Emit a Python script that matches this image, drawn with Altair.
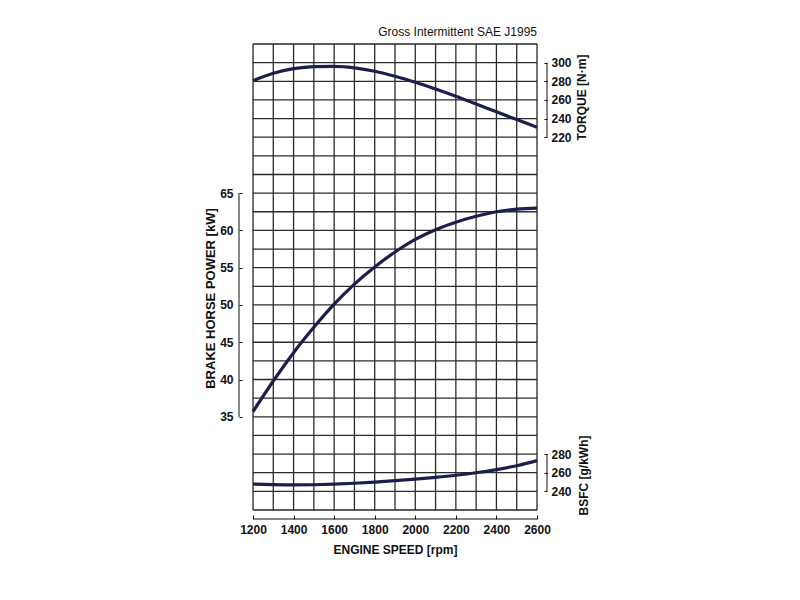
import altair as alt
import pandas as pd

# ---- data ----
rpm = [1200, 1300, 1400, 1500, 1600, 1700, 1800, 1900, 2000, 2100, 2200, 2300, 2400, 2500, 2600]
power_kw = [35.7, 39.8, 43.6, 47.0, 50.1, 52.8, 55.1, 57.1, 58.8, 60.1, 61.1, 61.9, 62.5, 62.85, 63.0]
torque_nm = [280.7, 288.6, 293.5, 295.7, 296.0, 294.4, 290.8, 285.4, 278.9, 271.7, 263.9, 255.6, 247.2, 238.9, 230.6]
bsfc_g = [247.9, 247.2, 246.9, 247.1, 247.7, 248.7, 250.0, 251.5, 253.2, 255.1, 257.3, 260.0, 263.4, 267.5, 273.0]

rpm_ticks = [1200, 1400, 1600, 1800, 2000, 2200, 2400, 2600]
rpm_grid = [1200, 1300, 1400, 1500, 1600, 1700, 1800, 1900, 2000, 2100, 2200, 2300, 2400, 2500, 2600]
power_ticks = [35, 40, 45, 50, 55, 60, 65]
power_grid = [22.5 + 2.5 * i for i in range(26)]
torque_ticks = [220, 240, 260, 280, 300]
bsfc_ticks = [240, 260, 280]

power_domain = [22.5, 85]
torque_domain = [-180, 320]
bsfc_domain = [220, 720]

W, H = 284, 466
FONT = "Liberation Sans, Arial, Helvetica, sans-serif"
CURVE = "#1b1f4d"
GRID = "#2b2b2b"
INK = "#111111"

df = pd.DataFrame({"rpm": rpm, "power": power_kw, "torque": torque_nm, "bsfc": bsfc_g})
vgrid_df = pd.DataFrame({"rpm": rpm_grid})
hgrid_df = pd.DataFrame({"kw": power_grid})
xline_df = pd.DataFrame({"a": [rpm_ticks[0]], "b": [rpm_ticks[-1]]})
pbr_df = pd.DataFrame({"a": [power_ticks[0]], "b": [power_ticks[-1]]})
tbr_df = pd.DataFrame({"a": [torque_ticks[0]], "b": [torque_ticks[-1]]})
bbr_df = pd.DataFrame({"a": [bsfc_ticks[0]], "b": [bsfc_ticks[-1]]})

common_axis = dict(grid=False, domain=False, ticks=True, tickColor=INK, tickWidth=1,
                   labelFont=FONT, labelFontSize=12, labelFontWeight="bold", labelColor=INK,
                   labelOverlap=False, labelFlush=False, format="d",
                   titleFont=FONT, titleFontWeight="bold", titleColor=INK)

xscale = alt.Scale(domain=[1200, 2600], nice=False, zero=False)
xaxis = alt.Axis(values=rpm_ticks, title="ENGINE SPEED [rpm]", offset=5, tickSize=4, labelPadding=5,
                 titlePadding=9, titleFontSize=12, **common_axis)


def X(field):
    return alt.X(f"{field}:Q", scale=xscale, axis=xaxis)


# vertical grid + x axis line
vgrid = alt.Chart(vgrid_df).mark_rule(color=GRID, strokeWidth=1.3).encode(x=X("rpm"))
xline = alt.Chart(xline_df).mark_rule(color=INK, strokeWidth=1).encode(
    x=X("a"), x2="b", y=alt.value(H + 9))

# power
pscale = alt.Scale(domain=power_domain, nice=False, zero=False)
paxis = alt.Axis(orient="left", values=power_ticks, title="BRAKE HORSE POWER [kW]", offset=11,
                 tickSize=3, labelPadding=6, titleAngle=270, titleX=-32, titleY=254,
                 titleAlign="center", titleBaseline="middle", titleFontSize=13, **common_axis)
hgrid = alt.Chart(hgrid_df).mark_rule(color=GRID, strokeWidth=1.3).encode(
    y=alt.Y("kw:Q", scale=pscale, axis=paxis))
pline = alt.Chart(df).mark_line(color=CURVE, strokeWidth=3.2, interpolate="monotone").encode(
    x=X("rpm"), y=alt.Y("power:Q", scale=pscale, axis=paxis))
pbr = alt.Chart(pbr_df).mark_rule(color=INK, strokeWidth=1).encode(
    x=alt.value(-14), y=alt.Y("a:Q", scale=pscale, axis=paxis), y2="b")
player = alt.layer(hgrid, pline, pbr)

# torque
tscale = alt.Scale(domain=torque_domain, nice=False, zero=False)
taxis = alt.Axis(orient="right", values=torque_ticks, title="TORQUE [N·m]", offset=7,
                 tickSize=3, labelPadding=4, titleAngle=270, titleX=37, titleY=53,
                 titleAlign="center", titleBaseline="middle", titleFontSize=12, **common_axis)
tline = alt.Chart(df).mark_line(color=CURVE, strokeWidth=3.2, interpolate="monotone").encode(
    x=X("rpm"), y=alt.Y("torque:Q", scale=tscale, axis=taxis))
tbr = alt.Chart(tbr_df).mark_rule(color=INK, strokeWidth=1).encode(
    x=alt.value(W + 10), y=alt.Y("a:Q", scale=tscale, axis=taxis), y2="b")
tlayer = alt.layer(tline, tbr)

# bsfc
bscale = alt.Scale(domain=bsfc_domain, nice=False, zero=False)
baxis = alt.Axis(orient="right", values=bsfc_ticks, title="BSFC [g/kWh]", offset=7,
                 tickSize=3, labelPadding=4, titleAngle=270, titleX=39, titleY=431,
                 titleAlign="center", titleBaseline="middle", titleFontSize=12, **common_axis)
bline = alt.Chart(df).mark_line(color=CURVE, strokeWidth=3.2, interpolate="monotone").encode(
    x=X("rpm"), y=alt.Y("bsfc:Q", scale=bscale, axis=baxis))
bbr = alt.Chart(bbr_df).mark_rule(color=INK, strokeWidth=1).encode(
    x=alt.value(W + 10), y=alt.Y("a:Q", scale=bscale, axis=baxis), y2="b")
blayer = alt.layer(bline, bbr)

chart = alt.layer(vgrid, xline, player, tlayer, blayer).resolve_scale(y="independent").properties(
    width=W, height=H,
    title=alt.TitleParams("Gross Intermittent SAE J1995", anchor="end", frame="group", font=FONT,
                          fontSize=12, fontWeight="normal", color=INK, offset=4),
    padding={"left": 196, "top": 18, "right": 5, "bottom": 5},
).configure_view(stroke=INK, strokeWidth=2).configure(background="white")

chart.save("out.html", embed_options={"renderer": "svg", "actions": False})
